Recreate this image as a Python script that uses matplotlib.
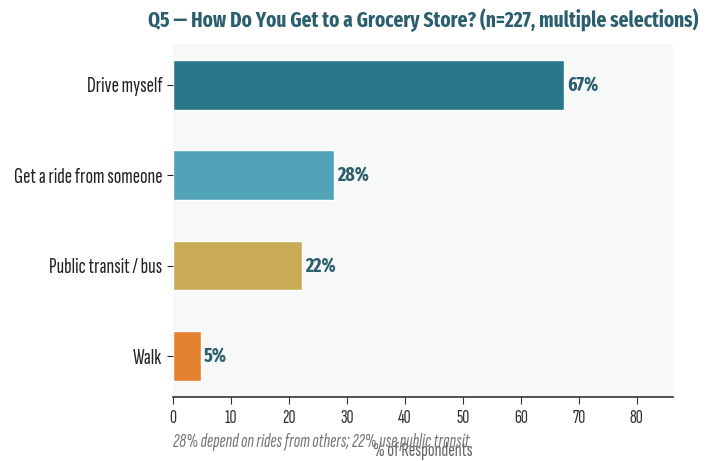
import matplotlib
matplotlib.use("Agg")
import matplotlib.pyplot as plt

categories = ["Drive myself", "Get a ride from someone", "Public transit / bus", "Walk"]
values = [67.4, 27.8, 22.3, 4.8]
value_labels = ["67%", "28%", "22%", "5%"]
colors = ["#2a768b", "#52a2b8", "#c9aa55", "#e58230"]
xticks = [0, 10, 20, 30, 40, 50, 60, 70, 80]
title = "Q5 \u2014 How Do You Get to a Grocery Store? (n=227, multiple selections)"
footnote = "28% depend on rides from others; 22% use public transit"
xlabel = "% of Respondents"

regular = ["Sofia Sans Extra Condensed", "Fira Sans Extra Condensed", "DejaVu Sans"]
bold = ["Fira Sans Extra Condensed", "DejaVu Sans"]
plt.rcParams["font.family"] = regular

fig = plt.figure(figsize=(7.17, 4.61), dpi=100)
ax = fig.add_axes([0.241, 0.139, 0.698, 0.766])
ax.set_facecolor("#f7f9f9")
ax.barh(categories, values, height=0.55, color=colors, edgecolor="white", linewidth=1)
ax.invert_yaxis()
ax.set_xlim(0, 86.3)
ax.set_xticks(xticks)
for cat, v, lab in zip(categories, values, value_labels):
    ax.text(v + 0.6, cat, lab, va="center", ha="left", family=bold,
            fontsize=14, fontweight="bold", color="#2b5f6e")
for s in ("top", "right", "left"):
    ax.spines[s].set_visible(False)
ax.spines["bottom"].set_color("#333333")
ax.spines["bottom"].set_linewidth(1.2)
ax.tick_params(axis="y", length=4, labelsize=16, colors="#222222")
ax.tick_params(axis="x", length=5, labelsize=14, colors="#333333")
ax.set_title(title, fontsize=15, fontweight="bold", color="#2b5f6e", pad=12, family=bold)
ax.set_xlabel(xlabel, fontsize=14.5, color="#666666")
ax.xaxis.set_label_coords(0.5, -0.128)
fig.text(0.241, 0.030, footnote, fontsize=14, style="italic", color="#777777", va="baseline")
fig.savefig("out.png", dpi=100)
